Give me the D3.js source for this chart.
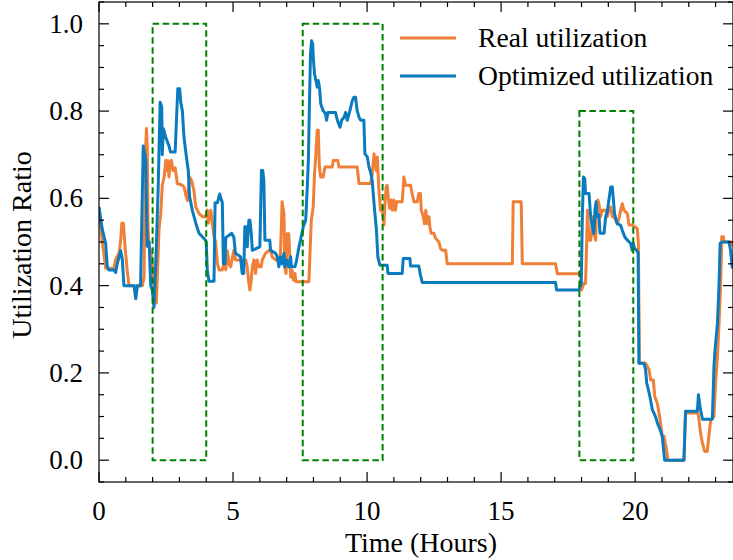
<!DOCTYPE html>
<html><head><meta charset="utf-8">
<script src="https://cdn.jsdelivr.net/npm/d3@7"></script>
<style>body{margin:0;background:#fff}svg{display:block}text{font-family:"Liberation Serif","Times New Roman",serif;fill:#000}</style>
</head><body><svg id="c" width="733" height="560"></svg>
<script>
const realT=[0.00,0.06,0.12,0.19,0.25,0.56,0.62,0.75,0.81,0.85,0.91,0.97,1.06,1.12,1.31,1.37,1.43,1.62,1.68,1.73,1.77,1.80,1.83,1.87,1.93,2.00,2.05,2.11,2.14,2.18,2.24,2.30,2.36,2.43,2.49,2.52,2.57,2.61,2.65,2.70,2.76,2.84,2.89,2.92,3.11,3.17,3.23,3.30,3.33,3.38,3.46,3.51,3.54,3.61,3.67,3.73,3.86,3.98,4.04,4.08,4.13,4.17,4.23,4.29,4.35,4.42,4.48,4.60,4.66,4.73,4.79,4.85,4.91,5.03,5.09,5.47,5.53,5.59,5.63,5.68,5.72,5.78,5.84,5.90,5.96,6.05,6.09,6.21,6.34,6.40,6.46,6.59,6.71,6.77,6.81,6.83,6.90,6.93,6.98,7.02,7.08,7.15,7.21,7.25,7.31,7.34,7.83,7.87,7.92,7.99,8.04,8.09,8.14,8.18,8.22,8.27,8.36,8.43,8.70,8.74,8.91,8.95,9.63,9.70,10.13,10.19,10.26,10.29,10.34,10.38,10.44,10.50,10.54,10.59,10.63,10.66,10.71,10.75,10.79,10.84,10.90,10.94,11.00,11.06,11.10,11.31,11.35,11.37,11.44,11.62,11.68,11.75,11.87,11.93,11.99,12.02,12.10,12.14,12.19,12.24,12.31,12.34,12.39,12.49,12.56,12.68,12.74,12.80,12.93,12.99,15.42,15.45,15.75,15.79,17.03,17.10,17.97,18.00,18.09,18.15,18.19,18.22,18.28,18.34,18.38,18.43,18.46,18.53,18.56,18.61,18.65,18.71,18.77,18.90,18.96,19.02,19.09,19.15,19.21,19.33,19.40,19.46,19.52,19.58,19.71,19.77,19.89,20.08,20.12,20.16,20.39,20.52,20.58,20.68,20.73,20.83,20.93,21.01,21.08,21.18,21.22,21.82,21.88,22.34,22.38,22.44,22.51,22.59,22.69,22.75,22.82,22.94,23.00,23.07,23.13,23.19,23.23,23.29,23.31,23.60,23.65];
const realV=[0.56,0.543,0.50,0.47,0.44,0.44,0.46,0.475,0.505,0.543,0.543,0.49,0.43,0.40,0.40,0.375,0.40,0.40,0.42,0.70,0.76,0.72,0.53,0.49,0.48,0.44,0.40,0.37,0.36,0.43,0.53,0.562,0.63,0.649,0.687,0.664,0.687,0.649,0.68,0.687,0.664,0.67,0.649,0.634,0.63,0.626,0.61,0.595,0.62,0.649,0.64,0.626,0.618,0.58,0.573,0.565,0.558,0.558,0.573,0.543,0.558,0.573,0.543,0.512,0.50,0.45,0.436,0.436,0.45,0.436,0.48,0.45,0.443,0.481,0.459,0.459,0.443,0.405,0.39,0.413,0.443,0.459,0.428,0.459,0.443,0.443,0.459,0.474,0.481,0.481,0.466,0.459,0.459,0.474,0.55,0.592,0.565,0.443,0.428,0.519,0.519,0.42,0.435,0.413,0.428,0.409,0.409,0.474,0.55,0.58,0.656,0.702,0.756,0.756,0.672,0.649,0.649,0.672,0.672,0.687,0.687,0.672,0.672,0.634,0.634,0.656,0.702,0.687,0.664,0.695,0.62,0.573,0.58,0.565,0.539,0.58,0.626,0.63,0.603,0.577,0.596,0.573,0.596,0.573,0.592,0.592,0.626,0.649,0.63,0.63,0.611,0.592,0.592,0.611,0.611,0.573,0.558,0.542,0.573,0.542,0.558,0.535,0.52,0.52,0.508,0.50,0.485,0.481,0.481,0.45,0.45,0.592,0.592,0.45,0.45,0.427,0.427,0.39,0.405,0.405,0.497,0.573,0.504,0.504,0.527,0.558,0.52,0.504,0.588,0.596,0.588,0.558,0.573,0.573,0.558,0.573,0.58,0.558,0.558,0.542,0.554,0.573,0.588,0.573,0.565,0.539,0.539,0.531,0.497,0.222,0.222,0.207,0.184,0.184,0.146,0.13,0.093,0.055,0.055,0.02,0.0,0.0,0.108,0.108,0.093,0.062,0.039,0.02,0.02,0.055,0.093,0.10,0.177,0.238,0.314,0.405,0.512,0.512,0.50,0.50,0.49];
const optT=[0.00,0.12,0.25,0.31,0.37,0.56,0.62,0.68,0.81,0.87,0.93,1.31,1.37,1.43,1.55,1.65,1.74,1.80,1.87,1.93,1.99,2.05,2.14,2.21,2.28,2.34,2.36,2.40,2.49,2.61,2.67,2.84,2.89,2.94,3.01,3.05,3.11,3.17,3.26,3.33,3.38,3.48,3.61,3.73,3.96,4.00,4.04,4.10,4.29,4.33,4.42,4.50,4.60,4.64,4.70,4.73,4.95,5.03,5.09,5.28,5.34,5.40,5.44,5.49,5.53,5.59,5.63,5.68,5.72,6.00,6.06,6.11,6.15,6.19,6.37,6.40,6.59,6.65,6.71,6.77,6.83,6.90,6.93,7.02,7.08,7.15,7.18,7.31,7.37,7.46,7.54,7.62,7.71,7.77,7.81,7.85,7.89,7.93,7.97,8.00,8.04,8.09,8.14,8.18,8.23,8.27,8.36,8.45,8.49,8.54,8.82,8.89,8.99,9.05,9.14,9.20,9.26,9.36,9.45,9.51,9.57,9.63,9.70,9.76,9.88,9.92,10.01,10.07,10.13,10.19,10.28,10.35,10.40,10.48,10.75,10.78,11.31,11.35,11.60,11.62,11.93,11.99,12.06,17.03,17.07,17.90,17.99,18.03,18.07,18.12,18.15,18.28,18.34,18.40,18.46,18.50,18.54,18.59,18.65,18.69,18.84,18.90,18.96,19.02,19.09,19.15,19.19,19.23,19.33,19.46,19.52,19.61,19.71,19.83,19.89,19.93,19.98,20.06,20.11,20.14,20.33,20.39,20.43,20.48,20.55,20.64,20.76,20.83,20.93,21.01,21.10,21.82,21.88,22.32,22.36,22.42,22.51,22.88,22.94,22.98,23.07,23.13,23.17,23.25,23.50,23.56,23.62,23.65];
const optV=[0.58,0.53,0.496,0.443,0.436,0.436,0.43,0.45,0.48,0.46,0.40,0.40,0.37,0.40,0.40,0.72,0.69,0.49,0.50,0.40,0.39,0.35,0.49,0.63,0.82,0.81,0.70,0.76,0.74,0.72,0.706,0.706,0.78,0.851,0.851,0.82,0.80,0.74,0.695,0.664,0.604,0.573,0.543,0.52,0.505,0.50,0.436,0.41,0.41,0.59,0.59,0.61,0.59,0.45,0.45,0.51,0.52,0.511,0.474,0.466,0.428,0.428,0.535,0.535,0.489,0.55,0.55,0.52,0.481,0.489,0.664,0.664,0.64,0.504,0.504,0.481,0.474,0.466,0.443,0.466,0.45,0.474,0.443,0.458,0.443,0.466,0.443,0.443,0.458,0.489,0.511,0.535,0.55,0.626,0.687,0.817,0.931,0.961,0.954,0.916,0.885,0.87,0.855,0.87,0.851,0.817,0.801,0.794,0.779,0.797,0.797,0.779,0.763,0.779,0.786,0.797,0.779,0.801,0.824,0.832,0.832,0.801,0.786,0.779,0.779,0.702,0.695,0.672,0.66,0.641,0.573,0.527,0.466,0.447,0.447,0.428,0.428,0.462,0.462,0.445,0.445,0.425,0.407,0.407,0.39,0.39,0.405,0.558,0.649,0.645,0.611,0.611,0.558,0.535,0.52,0.573,0.592,0.558,0.562,0.52,0.52,0.558,0.569,0.596,0.626,0.626,0.596,0.565,0.542,0.538,0.527,0.512,0.504,0.497,0.481,0.497,0.485,0.481,0.474,0.222,0.222,0.207,0.177,0.165,0.146,0.116,0.10,0.085,0.07,0.055,0.0,0.0,0.112,0.112,0.15,0.123,0.094,0.094,0.215,0.253,0.314,0.405,0.497,0.50,0.50,0.481,0.443,0.44];
const boxStart=[2.0,7.6,17.92];
const boxEnd=[4.0,10.58,19.93];
const boxTop=[1.0,1.0,0.8];
const xTicks=[0,5,10,15,20];
const yTicks=[0.0,0.2,0.4,0.6,0.8,1.0];
const seriesNames=["Real utilization","Optimized utilization"];
const seriesColors=["#f07f38","#0a7bbf"];

const L=99,R=733,T=2,B=482;
const svg=d3.select("#c");
const x=d3.scaleLinear().domain([0,23.65]).range([L,R]);
const y=d3.scaleLinear().domain([-0.05,1.05]).range([B,T]);

svg.append("defs").append("clipPath").attr("id","clip").append("rect").attr("x",L).attr("y",T).attr("width",R-L).attr("height",B-T);
const g=svg.append("g").attr("clip-path","url(#clip)");
const line=d3.line().x(d=>x(d[0])).y(d=>y(d[1]));
const realData=realT.map((t,i)=>[t,realV[i]]);
const optData=optT.map((t,i)=>[t,optV[i]]);
[realData,optData].forEach((d,i)=>{
  g.append("path").attr("d",line(d)).attr("fill","none").attr("stroke",seriesColors[i]).attr("stroke-width",3).attr("stroke-linejoin","round");
});
boxStart.forEach((s,i)=>{
  g.append("rect").attr("x",x(s)).attr("y",y(boxTop[i])).attr("width",x(boxEnd[i])-x(s)).attr("height",y(0)-y(boxTop[i]))
   .attr("fill","none").attr("stroke","green").attr("stroke-width",2).attr("stroke-dasharray","6.5,3.5");
});

// axes with inward ticks
const fs=27;
const xMinor=d3.range(0,24,1), yMinor=d3.range(-0.05,1.051,0.05);
const ax=svg.append("g");
const tk=(x1,y1,x2,y2)=>ax.append("line").attr("x1",x1).attr("y1",y1).attr("x2",x2).attr("y2",y2).attr("stroke","#000").attr("stroke-width",1.2);
xMinor.forEach(v=>{const len=xTicks.includes(v)?10:5; tk(x(v),B,x(v),B-len); tk(x(v),T,x(v),T+len);});
yMinor.forEach(v=>{const major=yTicks.some(t=>Math.abs(t-v)<1e-6); const len=major?10:5; tk(L,y(v),L+len,y(v)); tk(R,y(v),R-len,y(v));});
ax.append("rect").attr("x",L).attr("y",T).attr("width",R-L).attr("height",B-T).attr("fill","none").attr("stroke","#000").attr("stroke-width",1.2);
xTicks.forEach(v=>ax.append("text").attr("x",x(v)).attr("y",520).attr("text-anchor","middle").attr("font-size",fs).text(d3.format("d")(v)));
yTicks.forEach(v=>ax.append("text").attr("x",83).attr("y",y(v)+9).attr("text-anchor","end").attr("font-size",fs).text(d3.format(".1f")(v)));
svg.append("text").attr("x",421).attr("y",552).attr("text-anchor","middle").attr("font-size",28).text("Time (Hours)");
svg.append("text").attr("transform","translate(31,"+((T+B)/2+3)+") rotate(-90)").attr("text-anchor","middle").attr("font-size",28).text("Utilization Ratio");

// legend
seriesNames.forEach((n,i)=>{
  const yy=38+i*38;
  svg.append("line").attr("x1",400).attr("x2",456).attr("y1",yy).attr("y2",yy).attr("stroke",seriesColors[i]).attr("stroke-width",3);
  svg.append("text").attr("x",478).attr("y",yy+9).attr("font-size",27.6).text(n);
});
</script></body></html>
